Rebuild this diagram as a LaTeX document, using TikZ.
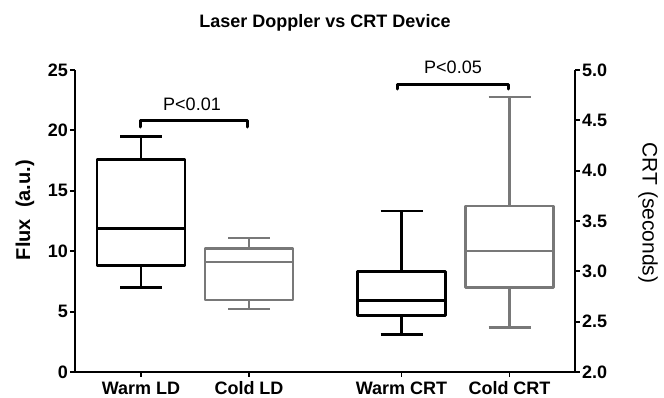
\documentclass[tikz,border=0pt]{standalone}
\usepackage{fontspec}
\setmainfont{Liberation Sans}
\usetikzlibrary{positioning}

\definecolor{coldgray}{RGB}{120,120,120}

% box and whiskers: x, min, q1, median, q3, max, style
\newcommand{\boxwhisk}[7]{%
  \draw[#7] (#1-44,#3) rectangle (#1+44,#5);
  \draw[#7] (#1-44,#4) -- (#1+44,#4);
  \draw[#7] (#1,#5) -- (#1,#6);
  \draw[#7] (#1,#3) -- (#1,#2);
  \draw[#7] (#1-21,#6) -- (#1+21,#6);
  \draw[#7] (#1-21,#2) -- (#1+21,#2);
}

\begin{document}
\begin{tikzpicture}[x=1bp, y=1bp, line join=round,
    axis/.style={line width=1.8bp, black},
    warm/.style={line width=2.6bp, black},
    cold/.style={line width=2.6bp, coldgray},
    bracket/.style={line width=3bp, line cap=round},
    ticklab/.style={font=\fontsize{18bp}{20bp}\selectfont\bfseries, inner sep=0pt},
    plab/.style={font=\fontsize{18bp}{20bp}\selectfont, inner sep=0pt}]
    \useasboundingbox (0,0) rectangle (664,397);

    % Title
    \node[font=\fontsize{18bp}{20bp}\selectfont\bfseries] (T) at (325,374) {Laser Doppler vs CRT Device};

    % Axes
    \coordinate (O) at (75,25);
    \coordinate (OR) at (575,25);
    \draw[axis] (75,327) -- (O) -- (OR) -- (575,327);

    % Left axis: flux
    \begin{scope}[shift={(0,25)}, y=12.08bp]
        \foreach \v in {0,5,...,25} {
            \draw[axis] (75,\v) -- (70,\v);
            \node[ticklab, anchor=east] (F\v) at (68,\v) {\v};
        }
        \boxwhisk{141}{7.0}{8.8}{11.9}{17.6}{19.5}{warm}
        \boxwhisk{249}{5.2}{5.96}{9.1}{10.2}{11.1}{cold}
    \end{scope}

    % Right axis: CRT
    \begin{scope}[shift={(0,-176.33)}, y=100.67bp]
        \foreach \v [count=\i] in {2.0,2.5,3.0,3.5,4.0,4.5,5.0} {
            \draw[axis] (575,\v) -- (580,\v);
            \node[ticklab, anchor=west] (C\i) at (582,\v) {\v};
        }
        \boxwhisk{401.5}{2.37}{2.56}{2.71}{3.0}{3.6}{warm}
        \boxwhisk{509.5}{2.44}{2.84}{3.2}{3.65}{4.73}{cold}
    \end{scope}

    % Groups
    \foreach \x/\lab [count=\i] in {141/Warm LD, 249/Cold LD, 401.5/Warm CRT, 509.5/Cold CRT} {
        \draw[axis] (\x,25) -- (\x,20);
        \node[ticklab, anchor=base] (G\i) at (\x,2.5) {\lab};
    }

    % Axis titles
    \node[font=\fontsize{20bp}{22bp}\selectfont\bfseries, rotate=90] (YL) at (25,187) {Flux\ \ (a.u.)};
    \node[font=\fontsize{21bp}{24bp}\selectfont, rotate=-90] (YR) at (648,184) {CRT (seconds)};

    % Significance
    \draw[bracket] (140,270) -- (140,277) -- (247,277) -- (247,270);
    \node[plab, anchor=base] (P1) at (192,286.5) {P<0.01};
    \draw[bracket] (397,308) -- (397,313) -- (508,313) -- (508,308);
    \node[plab, anchor=base] (P2) at (453,324) {P<0.05};

\end{tikzpicture}
\end{document}
